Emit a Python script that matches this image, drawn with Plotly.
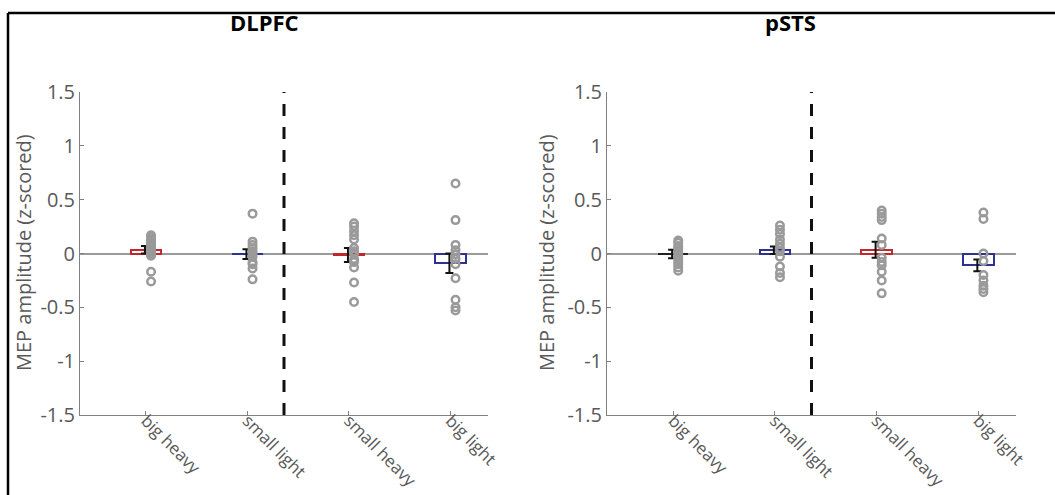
import plotly.graph_objects as go

categories = ["big heavy", "small light", "small heavy", "big light"]
positions = [1, 2, 3, 4]
ytick_vals = [-1.5, -1, -0.5, 0, 0.5, 1, 1.5]
ytick_text = ["-1.5", "-1", "-0.5", "0", "0.5", "1", "1.5"]
bar_colors_dlpfc = ["#c0282b", "#2e3192", "#c0282b", "#2e3192"]
bar_colors_psts = ["#222222", "#2e3192", "#c0282b", "#2e3192"]

# DLPFC
dlpfc_means = [0.035, -0.005, -0.015, -0.09]
dlpfc_se = [0.035, 0.045, 0.065, 0.09]
dlpfc_bh = [0.17, 0.15, 0.13, 0.11, 0.09, 0.07, 0.05, 0.03, 0.01, 0.0, -0.02, -0.17, -0.26]
dlpfc_sl = [0.37, 0.11, 0.08, 0.05, 0.02, 0.0, -0.03, -0.08, -0.1, -0.14, -0.24]
dlpfc_sh = [0.28, 0.25, 0.21, 0.17, 0.13, 0.05, 0.02, 0.0, -0.05, -0.08, -0.13, -0.27, -0.45]
dlpfc_bl = [0.65, 0.31, 0.08, 0.03, -0.01, -0.05, -0.1, -0.23, -0.43, -0.5, -0.53]

# pSTS
psts_means = [-0.005, 0.03, 0.035, -0.11]
psts_se = [0.04, 0.035, 0.075, 0.055]
psts_bh = [0.12, 0.1, 0.07, 0.05, 0.02, 0.0, -0.03, -0.05, -0.08, -0.1, -0.13, -0.16]
psts_sl = [0.26, 0.22, 0.18, 0.13, 0.09, 0.05, 0.02, -0.03, -0.12, -0.18, -0.22]
psts_sh = [0.40, 0.37, 0.34, 0.31, 0.14, 0.08, -0.04, -0.08, -0.11, -0.17, -0.25, -0.37]
psts_bl = [0.38, 0.32, 0.0, -0.07, -0.2, -0.25, -0.3, -0.33, -0.36]

divider_x = 2.36
titles = ["DLPFC", "pSTS"]

W, H = 1055, 495
FONT = "Open Sans"
GRAY = "#808080"
TXT = "#595959"

fig = go.Figure()

panels = [
    ("x", "y", dlpfc_means, dlpfc_se, [dlpfc_bh, dlpfc_sl, dlpfc_sh, dlpfc_bl], bar_colors_dlpfc),
    ("x2", "y2", psts_means, psts_se, [psts_bh, psts_sl, psts_sh, psts_bl], bar_colors_psts),
]

for xa, ya, means, se, pts, cols in panels:
    fig.add_trace(go.Bar(
        x=positions, y=means, width=0.3, base=0,
        marker=dict(color="white", line=dict(color=cols, width=2)),
        xaxis=xa, yaxis=ya, showlegend=False,
    ))
    fig.add_trace(go.Scatter(
        x=[p - 0.01 for p in positions], y=means, mode="markers",
        marker=dict(size=1, color="rgba(0,0,0,0)"),
        error_y=dict(type="data", array=se, color="#111111", thickness=2, width=4),
        xaxis=xa, yaxis=ya, showlegend=False,
    ))
    for p, vals in zip(positions, pts):
        fig.add_trace(go.Scatter(
            x=[p + 0.05] * len(vals), y=vals, mode="markers",
            marker=dict(symbol="circle-open", size=7.5, color="#9a9a9a", line=dict(width=2.5)),
            xaxis=xa, yaxis=ya, showlegend=False,
        ))

xdom = [[80 / W, 488 / W], [607 / W, 1016 / W]]
ydom = [(H - 415) / H, (H - 92) / H]

axis_common = dict(showline=True, linecolor=GRAY, linewidth=1, ticks="inside", ticklen=4,
                   tickcolor=GRAY, showgrid=False, automargin=False)

for i, (xa, ya) in enumerate([("xaxis", "yaxis"), ("xaxis2", "yaxis2")]):
    fig.layout[xa] = dict(domain=xdom[i], range=[0.35, 4.37], tickvals=positions, ticktext=categories,
                          tickangle=45, zeroline=False, anchor="y" if i == 0 else "y2",
                          ticklabelstandoff=-12,
                          tickfont=dict(family=FONT, size=17, color=TXT), **axis_common)
    fig.layout[ya] = dict(domain=ydom, range=[-1.5, 1.5], tickvals=ytick_vals, ticktext=ytick_text,
                          zeroline=True, zerolinecolor="#9a9a9a", zerolinewidth=1.5,
                          tickfont=dict(family=FONT, size=20, color=TXT),
                          anchor="x" if i == 0 else "x2", **axis_common)
    xr = "x" if i == 0 else "x2"
    yr = "y" if i == 0 else "y2"
    fig.add_shape(type="line", xref=xr, yref=yr, x0=divider_x, x1=divider_x, y0=-1.5, y1=1.5,
                  line=dict(color="#111111", width=3, dash="12px,11px"))

# frame
fig.add_shape(type="line", xref="paper", yref="paper", x0=8 / W, x1=8 / W, y0=0, y1=(H - 13) / H,
              line=dict(color="black", width=2.5))
fig.add_shape(type="line", xref="paper", yref="paper", x0=8 / W, x1=1, y0=(H - 13) / H, y1=(H - 13) / H,
              line=dict(color="black", width=2.5))

for xc, t in zip([264, 790], titles):
    fig.add_annotation(text="<b>%s</b>" % t, x=xc / W, y=(H - 22) / H, xref="paper", yref="paper",
                       xanchor="center", yanchor="middle",
                       showarrow=False, font=dict(family=FONT, size=22, color="black"))
for xc in [24, 547]:
    fig.add_annotation(text="MEP amplitude (z-scored)", x=xc / W, y=(H - 253) / H, xref="paper", yref="paper",
                       xanchor="center", yanchor="middle",
                       showarrow=False, textangle=-90, font=dict(family=FONT, size=20, color=TXT))

fig.update_layout(width=W, height=H, margin=dict(l=0, r=0, t=0, b=0),
                  paper_bgcolor="white", plot_bgcolor="white", bargap=0)

fig.write_html("out.html")
